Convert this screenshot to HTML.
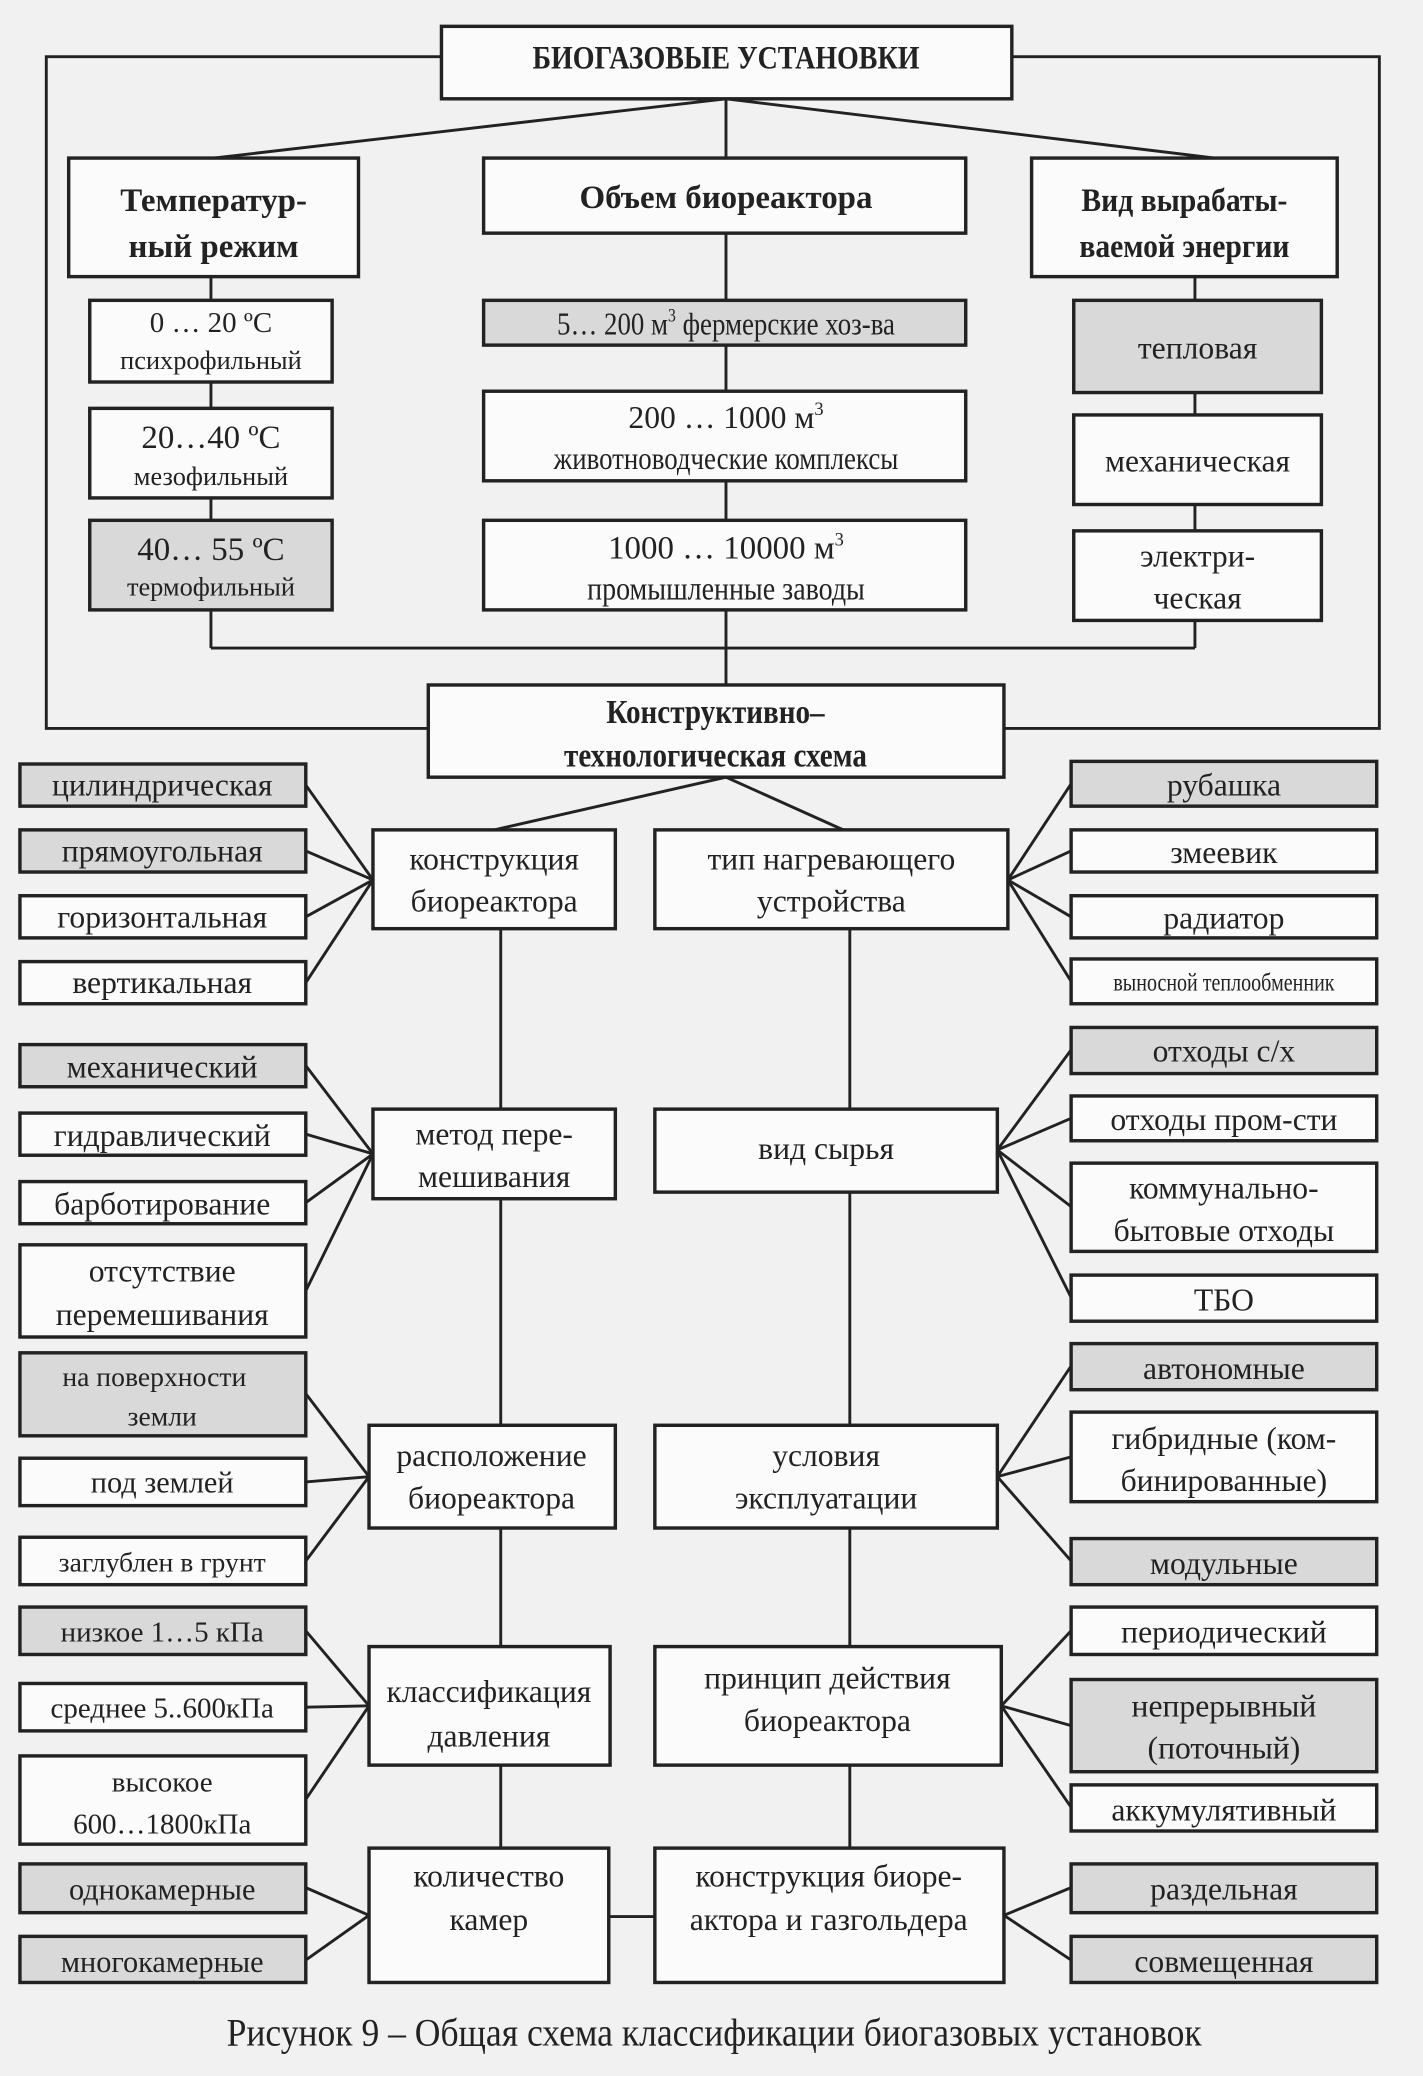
<!DOCTYPE html>
<html><head><meta charset="utf-8"><style>
html,body{margin:0;padding:0;background:#f1f1f1;}
svg{display:block}
text{font-family:"Liberation Serif","Noto Serif CJK SC",serif;fill:#222;text-anchor:middle}
.b{font-weight:bold}
rect{stroke:#222;stroke-width:2.6;fill:#fbfbfb}
rect.s{fill:#d9d9d9}
line,polyline{stroke:#222;stroke-width:2.2;fill:none}
</style></head><body>
<svg width="1423" height="2076" viewBox="0 0 1080 1576" xmlns="http://www.w3.org/2000/svg">
<rect x="0" y="0" width="1080" height="1576" style="fill:#f1f1f1;stroke:none"/>
<!-- connectors -->
<polyline points="335,43 35,43 35,553 325,553"/>
<polyline points="768,43 1047,43 1047,553 762,553"/>
<line x1="551" y1="75" x2="162" y2="120"/>
<line x1="551" y1="75" x2="551" y2="120"/>
<line x1="551" y1="75" x2="922" y2="120"/>
<line x1="160" y1="210" x2="160" y2="492"/>
<line x1="551" y1="177" x2="551" y2="520"/>
<line x1="907" y1="210" x2="907" y2="492"/>
<line x1="160" y1="492" x2="907" y2="492"/>
<line x1="551" y1="590" x2="375" y2="630"/>
<line x1="551" y1="590" x2="640" y2="630"/>
<line x1="380" y1="705" x2="380" y2="1403"/>
<line x1="645" y1="705" x2="645" y2="1403"/>
<line x1="462" y1="1455" x2="497" y2="1455"/>
<!-- left fans -->
<g>
<line x1="232" y1="596" x2="283" y2="668"/><line x1="232" y1="646" x2="283" y2="668"/><line x1="232" y1="696" x2="283" y2="668"/><line x1="232" y1="746" x2="283" y2="668"/>
<line x1="232" y1="809" x2="283" y2="876"/><line x1="232" y1="861" x2="283" y2="876"/><line x1="232" y1="913" x2="283" y2="876"/><line x1="232" y1="980" x2="283" y2="876"/>
<line x1="232" y1="1058" x2="280" y2="1121"/><line x1="232" y1="1125" x2="280" y2="1121"/><line x1="232" y1="1185" x2="280" y2="1121"/>
<line x1="232" y1="1238" x2="280" y2="1295"/><line x1="232" y1="1296" x2="280" y2="1295"/><line x1="232" y1="1366" x2="280" y2="1295"/>
<line x1="232" y1="1433" x2="280" y2="1454"/><line x1="232" y1="1488" x2="280" y2="1454"/>
</g>
<g>
<line x1="765" y1="668" x2="813" y2="595"/><line x1="765" y1="668" x2="813" y2="646"/><line x1="765" y1="668" x2="813" y2="696"/><line x1="765" y1="668" x2="813" y2="745"/>
<line x1="757" y1="873" x2="813" y2="797"/><line x1="757" y1="873" x2="813" y2="849"/><line x1="757" y1="873" x2="813" y2="916"/><line x1="757" y1="873" x2="813" y2="985"/>
<line x1="757" y1="1121" x2="813" y2="1037"/><line x1="757" y1="1121" x2="813" y2="1106"/><line x1="757" y1="1121" x2="813" y2="1185"/>
<line x1="760" y1="1295" x2="813" y2="1238"/><line x1="760" y1="1295" x2="813" y2="1310"/><line x1="760" y1="1295" x2="813" y2="1372"/>
<line x1="762" y1="1454" x2="813" y2="1433"/><line x1="762" y1="1454" x2="813" y2="1488"/>
</g>
<!-- top boxes -->
<rect x="335" y="20" width="433" height="55"/>
<g transform="translate(551,52) scale(.85,1)"><text class="b" font-size="25">БИОГАЗОВЫЕ УСТАНОВКИ</text></g>
<rect x="52" y="120" width="220" height="90"/>
<text class="b" x="162" y="160" font-size="25">Температур-</text><text class="b" x="162" y="195" font-size="25">ный режим</text>
<rect x="367" y="120" width="366" height="57"/>
<text class="b" x="551" y="158" font-size="25">Объем  биореактора</text>
<rect x="783" y="120" width="232" height="90"/>
<g transform="translate(899,0) scale(.9,1)"><text class="b" y="160" font-size="25">Вид вырабаты-</text><text class="b" y="195" font-size="25">ваемой энергии</text></g>
<!-- temp -->
<rect x="68" y="228" width="184" height="62"/>
<text x="160" y="252" font-size="22">0 … 20 ºC</text><text x="160" y="280" font-size="20">психрофильный</text>
<rect x="68" y="310" width="184" height="68"/>
<text x="160" y="340" font-size="25">20…40 ºC</text><text x="160" y="368" font-size="20">мезофильный</text>
<rect class="s" x="68" y="395" width="184" height="68"/>
<text x="160" y="425" font-size="25">40… 55 ºC</text><text x="160" y="452" font-size="20">термофильный</text>
<!-- volume -->
<rect class="s" x="367" y="228" width="366" height="34"/>
<g transform="translate(551,0) scale(.85,1)"><text y="254" font-size="24">5… 200 м<tspan font-size="14" dy="-10">3</tspan><tspan dy="10"> фермерские хоз-ва</tspan></text></g>
<rect x="367" y="297" width="366" height="68"/>
<text x="551" y="325" font-size="24">200 … 1000 м<tspan font-size="14" dy="-10">3</tspan></text>
<g transform="translate(551,0) scale(.85,1)"><text y="356" font-size="24">животноводческие комплексы</text></g>
<rect x="367" y="395" width="366" height="68"/>
<text x="551" y="424" font-size="25">1000 … 10000 м<tspan font-size="14" dy="-10">3</tspan></text>
<g transform="translate(551,0) scale(.85,1)"><text y="455" font-size="25">промышленные заводы</text></g>
<!-- energy -->
<rect class="s" x="815" y="228" width="188" height="70"/><text x="909" y="272" font-size="24">тепловая</text>
<rect x="815" y="315" width="188" height="68"/><text x="909" y="358" font-size="24">механическая</text>
<rect x="815" y="403" width="188" height="68"/><text x="909" y="430" font-size="24">электри-</text><text x="909" y="462" font-size="24">ческая</text>
<!-- constructive -->
<rect x="325" y="520" width="437" height="70"/>
<g transform="translate(543,0) scale(.85,1)"><text class="b" y="549" font-size="26">Конструктивно–</text><text class="b" y="582" font-size="26">технологическая схема</text></g>
<!-- middle boxes -->
<g font-size="24">
<rect x="283" y="630" width="184" height="75"/><text x="375" y="660" font-size="24">конструкция</text><text x="375" y="692" font-size="24">биореактора</text>
<rect x="497" y="630" width="268" height="75"/><text x="631" y="660" font-size="24">тип нагревающего</text><text x="631" y="692" font-size="24">устройства</text>
<rect x="283" y="842" width="184" height="68"/><text x="375" y="869" font-size="24">метод пере-</text><text x="375" y="901" font-size="24">мешивания</text>
<rect x="497" y="842" width="260" height="63"/><text x="627" y="880" font-size="24">вид сырья</text>
<rect x="280" y="1082" width="187" height="78"/><text x="373" y="1113" font-size="24">расположение</text><text x="373" y="1145" font-size="24">биореактора</text>
<rect x="497" y="1082" width="260" height="78"/><text x="627" y="1113" font-size="24">условия</text><text x="627" y="1145" font-size="24">эксплуатации</text>
<rect x="280" y="1250" width="183" height="90"/><text x="371" y="1292" font-size="24">классификация</text><text x="371" y="1326" font-size="24">давления</text>
<rect x="497" y="1250" width="263" height="90"/><text x="628" y="1282" font-size="24">принцип действия</text><text x="628" y="1314" font-size="24">биореактора</text>
<rect x="280" y="1403" width="182" height="102"/><text x="371" y="1432" font-size="24">количество</text><text x="371" y="1465" font-size="24">камер</text>
<rect x="497" y="1403" width="265" height="102"/><text x="629" y="1432" font-size="24">конструкция биоре-</text><text x="629" y="1465" font-size="24">актора и газгольдера</text>
</g>
<!-- left column -->
<rect class="s" x="15" y="580" width="217" height="32"/><text x="123" y="604" font-size="24">цилиндрическая</text>
<rect class="s" x="15" y="630" width="217" height="32"/><text x="123" y="654" font-size="24">прямоугольная</text>
<rect x="15" y="680" width="217" height="32"/><text x="123" y="704" font-size="24">горизонтальная</text>
<rect x="15" y="730" width="217" height="32"/><text x="123" y="754" font-size="24">вертикальная</text>
<rect class="s" x="15" y="793" width="217" height="32"/><text x="123" y="818" font-size="24">механический</text>
<rect x="15" y="845" width="217" height="32"/><text x="123" y="870" font-size="24">гидравлический</text>
<rect x="15" y="897" width="217" height="32"/><text x="123" y="922" font-size="24">барботирование</text>
<rect x="15" y="945" width="217" height="70"/><text x="123" y="973" font-size="24">отсутствие</text><text x="123" y="1006" font-size="24">перемешивания</text>
<rect class="s" x="15" y="1027" width="217" height="63"/><text x="117" y="1052" font-size="21">на поверхности</text><text x="123" y="1082" font-size="21">земли</text>
<rect x="15" y="1107" width="217" height="36"/><text x="123" y="1133" font-size="23">под землей</text>
<rect x="15" y="1167" width="217" height="36"/><text x="123" y="1193" font-size="21">заглублен в грунт</text>
<rect class="s" x="15" y="1220" width="217" height="36"/><text x="123" y="1246" font-size="22">низкое 1…5 кПа</text>
<rect x="15" y="1278" width="217" height="36"/><text x="123" y="1304" font-size="22">среднее 5..600кПа</text>
<rect x="15" y="1333" width="217" height="67"/><text x="123" y="1360" font-size="22">высокое</text><text x="123" y="1392" font-size="22">600…1800кПа</text>
<rect class="s" x="15" y="1415" width="217" height="37"/><text x="123" y="1442" font-size="23">однокамерные</text>
<rect class="s" x="15" y="1470" width="217" height="35"/><text x="123" y="1497" font-size="23">многокамерные</text>
<!-- right column -->
<rect class="s" x="813" y="578" width="232" height="34"/><text x="929" y="604" font-size="24">рубашка</text>
<rect x="813" y="630" width="232" height="32"/><text x="929" y="655" font-size="24">змеевик</text>
<rect x="813" y="680" width="232" height="32"/><text x="929" y="705" font-size="24">радиатор</text>
<rect x="813" y="728" width="232" height="34"/><g transform="translate(929,0) scale(.8,1)"><text y="752" font-size="19">выносной теплообменник</text></g>
<rect class="s" x="813" y="780" width="232" height="35"/><text x="929" y="806" font-size="24">отходы с/х</text>
<rect x="813" y="832" width="232" height="34"/><text x="929" y="858" font-size="24">отходы пром-сти</text>
<rect x="813" y="883" width="232" height="67"/><text x="929" y="910" font-size="24">коммунально-</text><text x="929" y="942" font-size="24">бытовые отходы</text>
<rect x="813" y="968" width="232" height="35"/><text x="929" y="995" font-size="24">ТБО</text>
<rect class="s" x="813" y="1020" width="232" height="35"/><text x="929" y="1047" font-size="24">автономные</text>
<rect x="813" y="1072" width="232" height="68"/><text x="929" y="1100" font-size="24">гибридные (ком-</text><text x="929" y="1132" font-size="24">бинированные)</text>
<rect class="s" x="813" y="1168" width="232" height="35"/><text x="929" y="1195" font-size="24">модульные</text>
<rect x="813" y="1220" width="232" height="36"/><text x="929" y="1247" font-size="24">периодический</text>
<rect class="s" x="813" y="1275" width="232" height="70"/><text x="929" y="1303" font-size="24">непрерывный</text><text x="929" y="1335" font-size="24">(поточный)</text>
<rect x="813" y="1355" width="232" height="35"/><text x="929" y="1382" font-size="24">аккумулятивный</text>
<rect class="s" x="813" y="1415" width="232" height="37"/><text x="929" y="1442" font-size="24">раздельная</text>
<rect class="s" x="813" y="1470" width="232" height="35"/><text x="929" y="1497" font-size="24">совмещенная</text>
<!-- caption -->
<g transform="translate(542,0) scale(.9,1)"><text y="1553" font-size="30">Рисунок 9 – Общая схема классификации биогазовых установок</text></g>
</svg>
</body></html>
